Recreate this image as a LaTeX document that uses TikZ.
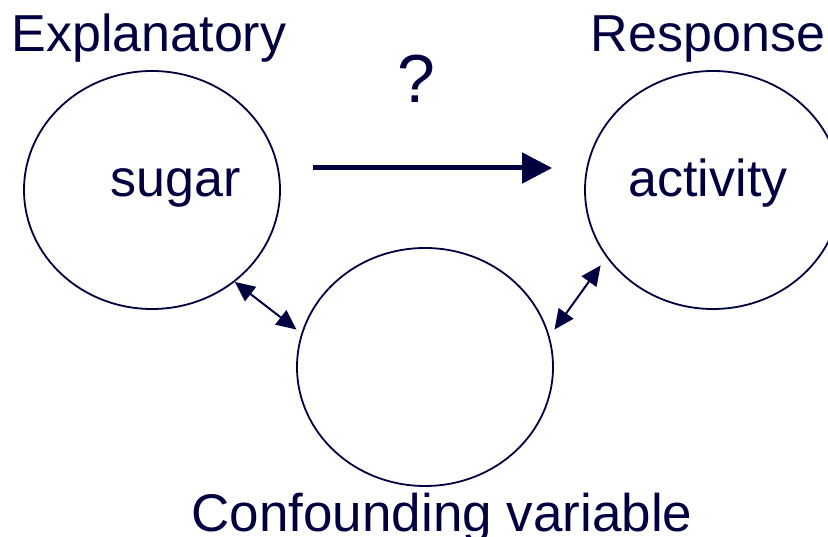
\documentclass[tikz,border=0pt]{standalone}
\usepackage{fontspec}
\setmainfont{Liberation Sans}
\definecolor{inknavy}{HTML}{000040}
\usetikzlibrary{arrows.meta,positioning,shapes.geometric}

\begin{document}
\begin{tikzpicture}[x=1pt, y=-1pt,
  var/.style={ellipse, draw=inknavy, line width=1.8pt,
    minimum width=256pt, minimum height=238pt, inner sep=0pt},
  lbl/.style={text=inknavy, anchor=base, inner sep=0pt,
    font=\fontsize{52}{60}\selectfont},
  causearr/.style={-{Triangle[length=30pt,width=30pt]}, inknavy,
    line width=5pt},
  linkarr/.style={{Triangle[length=20pt,width=18pt]}-{Triangle[length=20pt,width=18pt]},
    inknavy, line width=2pt}
]
  \useasboundingbox (0,0) rectangle (828,537);
  \node[var] (sugar) at (152,190) {};
  \node[var] (act) at (713,190) {};
  \node[var] (conf) at (425,367) {};
  \node[lbl] (explbl) at (149,52) {Explanatory};
  \node[lbl] (resplbl) at (708,52) {Response};
  \node[lbl, font=\fontsize{53}{60}\selectfont] (conflbl) at (442,531) {Confounding variable};
  \node[lbl] (sugarlbl) at (176,197) {sugar};
  \node[lbl] (actlbl) at (708,197) {activity};
  \node[lbl, font=\fontsize{68}{76}\selectfont] (qlbl) at (416,103) {?};
  \draw[causearr, shorten <=32pt, shorten >=32pt]
    ([yshift=22pt]sugar.east) -- ([yshift=22pt]act.west);
  \draw[linkarr] (sugar.-48) -- ([xshift=-6pt]conf.163);
  \draw[linkarr] ([shift={(-8,5)}]act.-146) -- ([xshift=7pt]conf.17);
\end{tikzpicture}
\end{document}
